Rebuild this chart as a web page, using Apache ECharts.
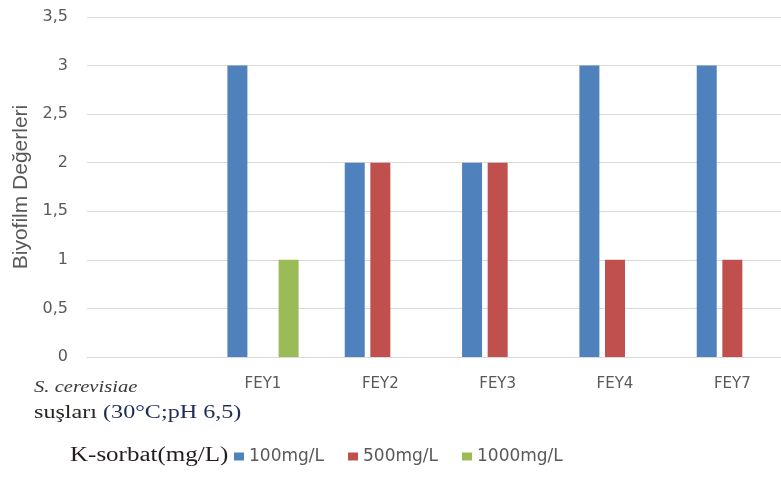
<!DOCTYPE html>
<html>
<head>
<meta charset="utf-8">
<script src="https://cdn.jsdelivr.net/npm/echarts@6/dist/echarts.min.js"></script>
<style>html,body{margin:0;padding:0;background:#fff;overflow:hidden;width:781px;height:477px}#c{width:791px;height:477px}</style>
</head>
<body>
<div id="c"></div>
<script>
var categories = ['', 'FEY1', 'FEY2', 'FEY3', 'FEY4', 'FEY7'];
var seriesNames = ['100mg/L', '500mg/L', '1000mg/L'];
var v100 = ['-', 3, 2, 2, 3, 3];
var v500 = ['-', 0, 2, 2, 1, 1];
var v1000 = ['-', 1, 0, 0, 0, 0];
var yTicks = [0, 0.5, 1, 1.5, 2, 2.5, 3, 3.5];

var colors = ['#4F81BD', '#C0504D', '#9BBB59'];
var chart = echarts.init(document.getElementById('c'));
var sans = 'DejaVu Sans';
function bar(name, data, color) {
  return {
    name: name, type: 'bar', data: data, barWidth: 20, barGap: '28%',
    itemStyle: { color: color }
  };
}
chart.setOption({
  animation: false,
  color: colors,
  grid: { left: 87, top: 17, right: 0, bottom: 120, containLabel: false },
  legend: {
    left: 234, top: 448, padding: 0, itemWidth: 10, itemHeight: 8, itemGap: 24,
    icon: 'rect',
    textStyle: { color: '#595959', fontFamily: sans, fontSize: 17 },
    data: seriesNames
  },
  xAxis: {
    type: 'category', data: categories,
    axisLine: { lineStyle: { color: '#d9d9d9' } },
    axisTick: { show: false },
    axisLabel: { color: '#595959', fontFamily: sans, fontSize: 15, margin: 20 }
  },
  yAxis: {
    type: 'value', min: yTicks[0], max: yTicks[yTicks.length - 1], interval: 0.5,
    name: 'Biyofilm Değerleri', nameLocation: 'middle', nameGap: 55, nameRotate: 90,
    nameTextStyle: { color: '#595959', fontFamily: 'Liberation Sans', fontSize: 21 },
    axisLine: { show: false }, axisTick: { show: false },
    splitLine: { lineStyle: { color: '#d9d9d9', width: 1 } },
    axisLabel: {
      color: '#595959', fontFamily: sans, fontSize: 16, margin: 19,
      formatter: function (v) { return String(v).replace('.', ','); }
    }
  },
  graphic: [
    { type: 'text', x: 34, y: 388, scaleX: 1.25,
      style: { text: 'S. cerevisiae', font: 'italic 16.5px "Liberation Serif"', fill: '#3a3a3a', textVerticalAlign: 'middle' } },
    { type: 'text', x: 34, y: 413, scaleX: 1.27,
      style: { text: '{a|suşları }{b|(30°C;pH 6,5)}', textVerticalAlign: 'middle',
        rich: { a: { font: '19px "Liberation Serif"', fill: '#2a2622' }, b: { font: '19px "Liberation Serif"', fill: '#1f2d55' } } } },
    { type: 'text', x: 70, y: 456, scaleX: 1.25,
      style: { text: 'K-sorbat(mg/L)', font: '20px "Liberation Serif"', fill: '#241c1c', textVerticalAlign: 'middle' } }
  ],
  series: [
    bar(seriesNames[0], v100, colors[0]),
    bar(seriesNames[1], v500, colors[1]),
    bar(seriesNames[2], v1000, colors[2])
  ]
});
</script>
</body>
</html>
